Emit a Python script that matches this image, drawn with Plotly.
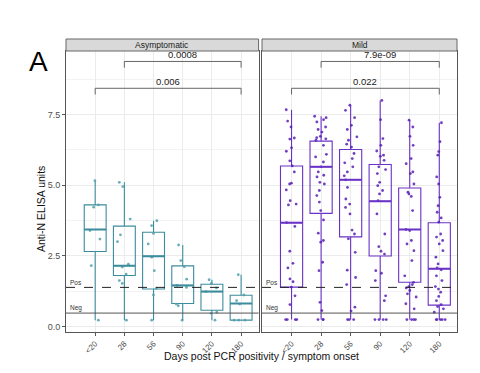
import plotly.graph_objects as go

categories = ["<20", "28", "56", "90", "120", "180"]
panels = ["Asymptomatic", "Mild"]

# Box statistics
asym_q1 = [2.65, 1.80, 1.32, 0.81, 0.57, 0.22]
asym_median = [3.43, 2.15, 2.48, 1.45, 1.23, 0.81]
asym_q3 = [4.30, 3.55, 3.33, 2.14, 1.49, 1.10]
asym_lower = [0.22, 0.22, 0.22, 0.22, 0.22, 0.22]
asym_upper = [5.16, 5.10, 3.74, 2.88, 1.65, 1.83]

mild_q1 = [1.39, 4.00, 3.17, 2.49, 1.56, 0.75]
mild_median = [3.67, 5.65, 5.19, 4.43, 3.43, 2.04]
mild_q3 = [5.68, 6.56, 6.26, 5.73, 4.90, 3.67]
mild_lower = [0.24, 0.24, 0.24, 0.24, 0.24, 0.24]
mild_upper = [7.67, 7.44, 7.83, 8.00, 7.30, 7.21]

# Individual samples
asym_lt20 = [5.16, 4.30, 4.22, 3.39, 3.09, 2.15, 0.22]
asym_d28 = [5.10, 4.95, 3.80, 3.24, 3.00, 2.20, 2.10, 1.85, 1.62, 1.52, 0.22]
asym_d56 = [3.74, 3.57, 3.29, 2.92, 2.45, 1.97, 1.35, 1.11, 0.22]
asym_d90 = [2.88, 2.33, 2.11, 1.67, 1.45, 1.38, 0.79, 0.73, 0.22]
asym_d120 = [1.65, 1.52, 1.36, 1.23, 0.50, 0.46, 0.22]
asym_d180 = [1.83, 1.11, 0.91, 0.79, 0.22, 0.22, 0.22]

mild_lt20 = [7.67, 7.27, 7.06, 6.67, 6.63, 6.32, 6.20, 5.86, 5.68, 5.47, 5.07, 5.04,
             4.83, 4.45, 4.33, 4.30, 3.67, 3.54, 2.66, 2.23, 2.07, 1.68, 1.58, 1.39,
             1.08, 0.77, 0.24, 0.24, 0.24, 0.24]
mild_d28 = [7.44, 7.39, 7.32, 7.24, 7.06, 6.97, 6.88, 6.73, 6.68, 6.64, 6.59, 6.41,
            6.09, 6.00, 5.82, 5.65, 5.47, 5.35, 5.29, 5.10, 5.04, 4.81, 4.63, 4.40,
            4.10, 3.77, 3.30, 3.04, 2.98, 2.27, 1.97, 0.85, 0.56, 0.24, 0.24, 0.24]
mild_d56 = [7.83, 7.65, 7.39, 7.12, 6.97, 6.71, 6.59, 6.45, 6.35, 6.12, 5.94, 5.79,
            5.65, 5.47, 5.33, 5.19, 4.92, 4.51, 4.33, 4.21, 3.98, 3.41, 3.27, 3.10,
            2.62, 1.99, 1.73, 1.48, 0.68, 0.54, 0.24, 0.24, 0.24]
mild_d90 = [8.00, 7.32, 6.65, 6.41, 6.21, 6.06, 6.02, 5.88, 5.65, 5.55, 5.41, 5.10,
            4.98, 4.81, 4.69, 4.45, 3.98, 3.27, 2.82, 2.66, 2.56, 1.97, 1.88, 1.62,
            1.08, 0.91, 0.24, 0.24, 0.24, 0.24]
mild_d120 = [7.30, 7.06, 6.73, 6.41, 5.94, 5.76, 5.47, 5.41, 5.04, 4.75, 4.69, 4.60,
             4.10, 3.43, 3.39, 3.04, 2.92, 2.68, 2.33, 1.79, 1.56, 1.48, 1.41, 1.36,
             1.27, 1.15, 1.04, 0.80, 0.62, 0.24, 0.24, 0.24, 0.24]
mild_d180 = [7.21, 6.54, 6.19, 6.06, 5.29, 5.04, 4.57, 4.27, 4.04, 3.84, 3.69, 3.27,
             3.16, 3.04, 2.92, 2.68, 2.45, 2.21, 2.07, 2.00, 1.79, 1.62, 1.41, 1.32,
             1.21, 1.06, 0.91, 0.77, 0.70, 0.62, 0.50, 0.24, 0.24, 0.24, 0.24, 0.24]

asym_points = [asym_lt20, asym_d28, asym_d56, asym_d90, asym_d120, asym_d180]
mild_points = [mild_lt20, mild_d28, mild_d56, mild_d90, mild_d120, mild_d180]

# Thresholds
pos_threshold = 1.38
neg_threshold = 0.47

# Significance comparisons: (panel, from, to, p-label, bracket height)
comparisons = [
    ("Asymptomatic", "28", "180", "0.0008", 9.38),
    ("Asymptomatic", "<20", "180", "0.006", 8.43),
    ("Mild", "28", "180", "7.9e-09", 9.38),
    ("Mild", "<20", "180", "0.022", 8.43),
]

TEAL = "#3B8C9C"
TEAL_PT = "rgba(80,160,172,0.85)"
PURPLE = "#6A32C6"
PURPLE_PT = "rgba(88,30,180,0.85)"
FONT = "Liberation Sans, Arial, sans-serif"
BOX_W = 0.75

fig = go.Figure()

groups = [
    ("x", "y", asym_q1, asym_median, asym_q3, asym_lower, asym_upper, asym_points, TEAL, TEAL_PT),
    ("x2", "y2", mild_q1, mild_median, mild_q3, mild_lower, mild_upper, mild_points, PURPLE, PURPLE_PT),
]

shapes = []
for xa, ya, q1, med, q3, lo, hi, pts, col, ptcol in groups:
    fig.add_trace(go.Box(
        x=categories, q1=q1, median=med, q3=q3, lowerfence=lo, upperfence=hi,
        boxpoints=False, whiskerwidth=0, width=BOX_W,
        line=dict(color=col, width=1.1), fillcolor="rgba(255,255,255,0)",
        xaxis=xa, yaxis=ya, showlegend=False, hoverinfo="skip",
    ))
    # thicker median bars (ggplot style)
    for i, m in enumerate(med):
        shapes.append(dict(type="line", xref=xa, yref=ya, x0=i - BOX_W / 2, x1=i + BOX_W / 2,
                           y0=m, y1=m, line=dict(color=col, width=2)))
    xs, ys = [], []
    for c, vals in zip(categories, pts):
        xs += [c] * len(vals)
        ys += vals
    fig.add_trace(go.Box(
        x=xs, y=ys, boxpoints="all", jitter=0.65, pointpos=0, width=BOX_W,
        line=dict(color="rgba(0,0,0,0)", width=0), fillcolor="rgba(0,0,0,0)",
        marker=dict(size=2.8, color=ptcol),
        xaxis=xa, yaxis=ya, showlegend=False, hoverinfo="skip",
    ))

dom_top = 0.959
axis_common = dict(
    type="category", categoryorder="array", categoryarray=categories,
    range=[-1.0, 5.6], showgrid=True, gridcolor="#EBEBEB", gridwidth=1,
    showline=True, mirror=True, linecolor="#555555", linewidth=1,
    ticks="outside", ticklen=3, tickcolor="#555555", tickangle=-45,
    tickfont=dict(family=FONT, size=8, color="#4D4D4D"), zeroline=False,
    automargin=False,
)
yaxis_common = dict(
    range=[-0.2, 9.75], tick0=0, dtick=2.5, tickformat=".1f",
    showgrid=True, gridcolor="#EBEBEB", gridwidth=1,
    minor=dict(dtick=1.25, showgrid=True, gridcolor="#F3F3F3", gridwidth=0.6),
    showline=True, mirror=True, linecolor="#555555", linewidth=1,
    zeroline=False, domain=[0, dom_top], automargin=False,
)

# page body has an 8px margin, so the figure is 8px smaller and margins shifted
fig.update_layout(
    width=472, height=365, boxmode="overlay",
    margin=dict(l=58, r=23, t=31, b=41, autoexpand=False),
    paper_bgcolor="white", plot_bgcolor="white",
    font=dict(family=FONT, size=9, color="#222222"),
    xaxis=dict(domain=[0, 0.4926], anchor="y", **axis_common),
    xaxis2=dict(domain=[0.5013, 1], anchor="y2", **axis_common),
    yaxis=dict(anchor="x", ticks="outside", ticklen=3, tickcolor="#555555",
               tickfont=dict(family=FONT, size=9, color="#4D4D4D"), **yaxis_common),
    yaxis2=dict(anchor="x2", matches="y", showticklabels=False, ticks="", **yaxis_common),
)

panel_axes = {"Asymptomatic": ("x", "y", 0, 0.4926), "Mild": ("x2", "y2", 0.5013, 1)}

annotations = []
for name in panels:
    xa, ya, d0, d1 = panel_axes[name]
    shapes.append(dict(type="rect", xref="paper", yref="paper", x0=d0, x1=d1,
                       y0=dom_top, y1=1.0, fillcolor="#D9D9D9",
                       line=dict(color="#666666", width=1), layer="above"))
    annotations.append(dict(text=name, xref="paper", yref="paper", x=(d0 + d1) / 2,
                            y=(dom_top + 1) / 2, showarrow=False,
                            font=dict(family=FONT, size=8.5, color="#1A1A1A"),
                            xanchor="center", yanchor="middle"))
    shapes.append(dict(type="line", xref=f"{xa} domain", yref=ya, x0=0, x1=1,
                       y0=pos_threshold, y1=pos_threshold,
                       line=dict(color="#222222", width=1, dash="dash")))
    shapes.append(dict(type="line", xref=f"{xa} domain", yref=ya, x0=0, x1=1,
                       y0=neg_threshold, y1=neg_threshold,
                       line=dict(color="#555555", width=1)))
    for lbl, yv in (("Pos", pos_threshold), ("Neg", neg_threshold)):
        annotations.append(dict(text=lbl, xref=f"{xa} domain", yref=ya, x=0.01, y=yv,
                                showarrow=False, xanchor="left", yanchor="bottom",
                                yshift=-1, font=dict(family=FONT, size=6.5, color="#333333")))

for name, c0, c1, label, h in comparisons:
    xa, ya, _, _ = panel_axes[name]
    i0, i1 = categories.index(c0), categories.index(c1)
    tick = 0.22
    for (x0, y0, x1, y1) in ((i0, h, i1, h), (i0, h, i0, h - tick), (i1, h, i1, h - tick)):
        shapes.append(dict(type="line", xref=xa, yref=ya, x0=x0, x1=x1, y0=y0, y1=y1,
                           line=dict(color="#666666", width=1)))
    annotations.append(dict(text=label, xref=xa, yref=ya, x=(i0 + i1) / 2, y=h,
                            showarrow=False, xanchor="center", yanchor="bottom",
                            yshift=-1, font=dict(family=FONT, size=9.5, color="#222222")))

annotations.append(dict(text="Days post PCR positivity / symptom onset", xref="paper",
                        yref="paper", x=0.5, y=(332 - 356) / 293, showarrow=False,
                        xanchor="center", yanchor="middle",
                        font=dict(family=FONT, size=10.5, color="#111111")))
annotations.append(dict(text="Anti-N ELISA units", xref="paper", yref="paper",
                        x=(41 - 66) / 391, y=(332 - 209) / 293, showarrow=False,
                        textangle=-90, xanchor="center", yanchor="middle",
                        font=dict(family=FONT, size=10.5, color="#111111")))
annotations.append(dict(text="A", xref="paper", yref="paper",
                        x=(38 - 66) / 391, y=(332 - 62) / 293, showarrow=False,
                        xanchor="center", yanchor="middle",
                        font=dict(family=FONT, size=28, color="#000000")))

fig.update_layout(shapes=shapes, annotations=annotations)
fig.write_html("out.html")
